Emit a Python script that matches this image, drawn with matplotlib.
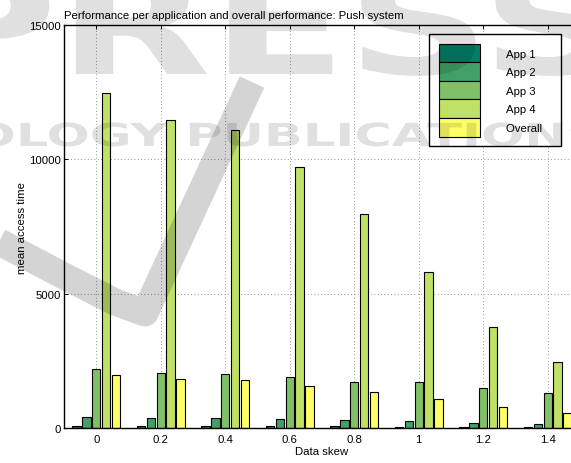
import matplotlib
matplotlib.use("Agg")
import matplotlib.pyplot as plt
import numpy as np
from matplotlib.textpath import TextPath
from matplotlib.patches import PathPatch
from matplotlib.font_manager import FontProperties
from matplotlib.lines import Line2D
from matplotlib.transforms import Affine2D

plt.rcParams["font.family"] = ["Liberation Sans", "DejaVu Sans"]
plt.rcParams["font.size"] = 8.2

# mean access time per data skew level
skew = [0, 0.2, 0.4, 0.6, 0.8, 1.0, 1.2, 1.4]
app1 = [75, 75, 70, 65, 60, 55, 45, 35]
app2 = [410, 385, 360, 325, 300, 250, 200, 150]
app3 = [2185, 2035, 2020, 1885, 1725, 1710, 1500, 1290]
app4 = [12470, 11460, 11100, 9710, 7960, 5820, 3770, 2460]
overall = [1985, 1835, 1775, 1575, 1340, 1070, 770, 560]
series_names = ["App 1", "App 2", "App 3", "App 4", "Overall"]

W, H = 571, 464
fig = plt.figure(figsize=(W / 100, H / 100), dpi=100)
ax = fig.add_axes([64 / W, (H - 429) / H, (580 - 64) / W, (429 - 26) / H])

# summer colormap, one shade per series
colors = plt.cm.summer(np.linspace(0, 1, 5))
step = 0.0308
width = 0.026
x = np.array(skew)
for i, (vals, name) in enumerate(zip([app1, app2, app3, app4, overall], series_names)):
    ax.bar(x + (i - 2) * step, vals, width, color=colors[i], edgecolor="black",
           linewidth=0.8, label=name + "   ", zorder=2)

ax.set_xlim(-0.1, 1.5)
ax.set_ylim(0, 15000)
ax.set_xticks(skew)
ax.set_xticklabels(["0", "0.2", "0.4", "0.6", "0.8", "1", "1.2", "1.4"])
ax.set_yticks([0, 5000, 10000, 15000])
ax.grid(True, linestyle=(0, (1, 3)), color="0.45", linewidth=0.6, zorder=0)
ax.set_axisbelow(True)
ax.tick_params(direction="in", length=3, width=0.7, top=True, right=True, colors="black")
ax.tick_params(axis="x", pad=4)
ax.tick_params(axis="y", pad=2.5)
for sp in ax.spines.values():
    sp.set_linewidth(1.0)

ax.set_title("Performance per application and overall performance: Push system",
             loc="left", pad=5, fontsize=8.2)
ax.set_xlabel("Data skew")
ax.set_ylabel("mean access time")
ax.xaxis.set_label_coords(0.5, -0.045)
ax.yaxis.set_label_coords((27 - 64) / 516, 0.5)

leg = ax.legend(loc="upper right", bbox_to_anchor=(561 / W, 1 - 35 / H),
                bbox_transform=fig.transFigure, borderaxespad=0, fancybox=False,
                edgecolor="black", framealpha=1, labelspacing=0, handleheight=2.135,
                handlelength=3.6, handletextpad=2.28, borderpad=0.85, fontsize=8.2)
leg.get_frame().set_linewidth(1.0)

# faint publisher watermark drawn over the plot
to_fig = Affine2D().scale(1 / W, 1 / H) + fig.transFigure
wm_font = FontProperties(family="DejaVu Sans", weight="bold")


def watermark_word(text, x0, x1, baseline, cap):
    tp = TextPath((0, 0), text, size=100, prop=wm_font)
    bb = tp.get_extents()
    tr = Affine2D().translate(-bb.x0, 0).scale((x1 - x0) / bb.width, cap / bb.height) \
        .translate(x0, H - baseline)
    path = tr.transform_path(tp)
    fig.add_artist(PathPatch(path, facecolor="black", edgecolor="none", alpha=0.12,
                             transform=to_fig, zorder=10))


watermark_word("PRESS", -70, 610, 75, 105)
watermark_word("OLOGY PUBLICATIONS", -25, 600, 147, 24)

swoosh = [(-10, 238), (60, 275), (115, 303), (145, 314), (252, 83)]
sx, sy = zip(*swoosh)
fig.add_artist(Line2D(np.array(sx), H - np.array(sy), transform=to_fig, color="black",
                      alpha=0.17, linewidth=19.5, solid_joinstyle="round",
                      solid_capstyle="butt", zorder=10))

fig.savefig("out.png", dpi=100)
